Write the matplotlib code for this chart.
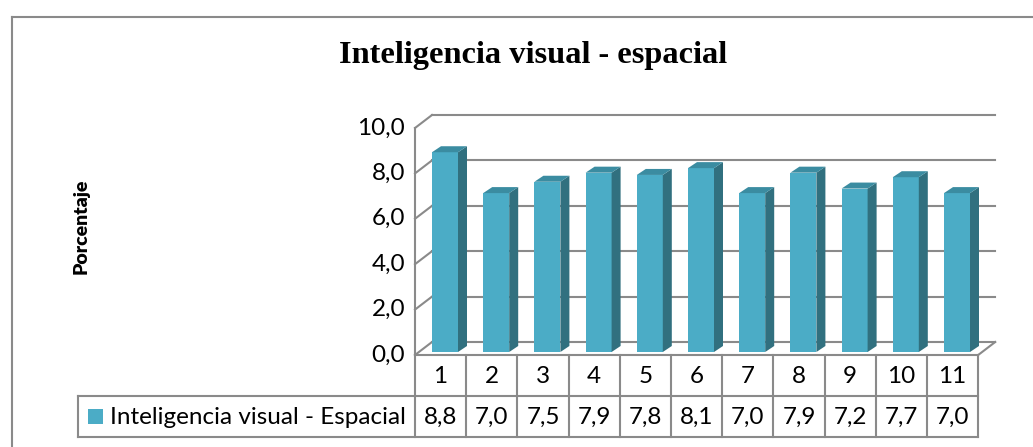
import matplotlib
matplotlib.use("Agg")
import matplotlib.pyplot as plt
from matplotlib.patches import Polygon, Rectangle
from matplotlib.lines import Line2D

# ------------------------------------------------------------
# Excel-style 3D column chart with a data table underneath.
# ------------------------------------------------------------

categories = ["1", "2", "3", "4", "5", "6", "7", "8", "9", "10", "11"]
values = [8.8, 7.0, 7.5, 7.9, 7.8, 8.1, 7.0, 7.9, 7.2, 7.7, 7.0]
value_labels = ["8,8", "7,0", "7,5", "7,9", "7,8", "8,1", "7,0", "7,9", "7,2", "7,7", "7,0"]
y_ticks = [0, 2, 4, 6, 8, 10]
y_tick_labels = ["0,0", "2,0", "4,0", "6,0", "8,0", "10,0"]
series_name = "Inteligencia visual - Espacial"
title = "Inteligencia visual - espacial"
y_label = "Porcentaje"

W, H = 1033, 447
PX_X = 51.2       # pixels per category
PX_Y = 22.7       # pixels per value unit
X0_PX = 415       # pixel x of the left edge of the plot (x = 0.5)
Y0_PX = 355       # pixel y (from top) of value 0

# depth of the 3D box, in data units
DX = 17 / PX_X
DY = 13 / PX_Y
# bar geometry
BAR_OFF = 17 / PX_X
BAR_W = 26 / PX_X
BAR_BASE = 3 / PX_Y
BAR_SDX = 9 / PX_X
BAR_SDY = 6 / PX_Y
ROW_H = 41 / PX_Y
LEGEND_LEFT = 0.5 - (X0_PX - 78) / PX_X

FRONT = "#4bacc6"
SIDE = "#31707f"
TOP = "#3b8ca1"
GRID = "#8a8a8a"
FONT = "Lato"
FS = 17.5

fig = plt.figure(figsize=(W / 100, H / 100), dpi=100)
ax = fig.add_axes([0, 0, 1, 1])
ax.set_xlim(0.5 - X0_PX / PX_X, 0.5 + (W - X0_PX) / PX_X)
ax.set_ylim(-(H - Y0_PX) / PX_Y, Y0_PX / PX_Y)
ax.axis("off")

n = len(values)
x_left, x_right = 0.5, n + 0.5

# back wall gridlines + left wall diagonals
for v in y_ticks:
    ax.plot([x_left + DX, x_right + DX], [v + DY, v + DY], color=GRID, lw=1.5, zorder=1)
    ax.plot([x_left, x_left + DX], [v, v + DY], color=GRID, lw=1.5, zorder=1)
ax.plot([x_left, x_left], [0, max(y_ticks)], color=GRID, lw=1.5, zorder=1)
# floor
ax.plot([x_right, x_right + DX], [0, DY], color=GRID, lw=1.5, zorder=1)
ax.plot([x_left, x_right], [0, 0], color=GRID, lw=1.5, zorder=1)

# bars
for i, v in enumerate(values, start=1):
    xl = i - 0.5 + BAR_OFF
    xr = xl + BAR_W
    b = BAR_BASE
    t = v + BAR_BASE
    ax.add_patch(Rectangle((xl, b), BAR_W, v, facecolor=FRONT, edgecolor="none", zorder=3))
    ax.add_patch(Polygon([(xr, b), (xr + BAR_SDX, b + BAR_SDY), (xr + BAR_SDX, t + BAR_SDY), (xr, t)],
                         closed=True, facecolor=SIDE, edgecolor="none", zorder=3))
    ax.add_patch(Polygon([(xl, t), (xl + BAR_SDX, t + BAR_SDY), (xr + BAR_SDX, t + BAR_SDY), (xr, t)],
                         closed=True, facecolor=TOP, edgecolor="none", zorder=3))

# y tick labels
for v, lab in zip(y_ticks, y_tick_labels):
    ax.text(x_left - 10 / PX_X, v, lab, ha="right", va="center", fontsize=FS, family=FONT)

# data table
for i in range(n + 1):
    ax.plot([i + 0.5, i + 0.5], [0, -2 * ROW_H], color=GRID, lw=1.5, zorder=1)
for yy in (-ROW_H, -2 * ROW_H):
    ax.plot([LEGEND_LEFT, x_right], [yy, yy], color=GRID, lw=1.5, zorder=1)
ax.plot([LEGEND_LEFT, LEGEND_LEFT], [-ROW_H, -2 * ROW_H], color=GRID, lw=1.5, zorder=1)
for i, (c, lab) in enumerate(zip(categories, value_labels), start=1):
    ax.text(i, -0.5 * ROW_H - 0.05, c, ha="center", va="center", fontsize=FS, family=FONT)
    ax.text(i, -1.5 * ROW_H - 0.05, lab, ha="center", va="center", fontsize=FS, family=FONT)
ax.add_patch(Rectangle((LEGEND_LEFT + 10 / PX_X, -1.5 * ROW_H - 7.5 / PX_Y), 15 / PX_X, 15 / PX_Y,
                       facecolor=FRONT, edgecolor="none"))
ax.text(LEGEND_LEFT + 32 / PX_X, -1.5 * ROW_H - 0.05, series_name, ha="left", va="center",
        fontsize=FS, family=FONT)

# axis label and title
fig.text(81 / W, 1 - 226 / H, y_label, rotation=90, ha="center", va="center",
         fontsize=14, fontweight="heavy", family=FONT)
fig.text(533 / W, 1 - 56 / H, title, ha="center", va="center", fontsize=23.3,
         fontweight="bold", family="Liberation Serif")

# outer chart frame (cropped on right and bottom)
fig.add_artist(Line2D([12 / W, 1.01], [1 - 17 / H, 1 - 17 / H], color=GRID, lw=1.5,
                      transform=fig.transFigure))
fig.add_artist(Line2D([12 / W, 12 / W], [1 - 17 / H, -0.01], color=GRID, lw=1.5,
                      transform=fig.transFigure))

fig.savefig("out.png", dpi=100)
